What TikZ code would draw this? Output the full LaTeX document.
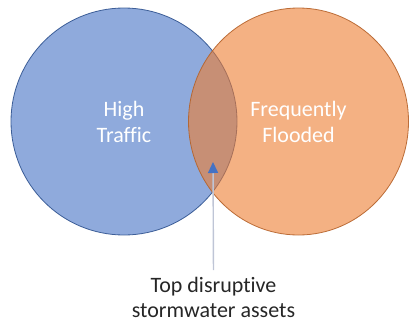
\documentclass[tikz,border=0pt]{standalone}
\usepackage{fontspec}
\setmainfont[Ligatures=NoCommon]{Carlito}
\usetikzlibrary{arrows.meta,shapes.geometric}
\definecolor{trafficblue}{HTML}{4472C4}
\definecolor{trafficline}{HTML}{2F528F}
\definecolor{floodorange}{HTML}{ED7D31}
\definecolor{floodline}{HTML}{B5622A}
\definecolor{pointerline}{HTML}{BFC5D6}

\begin{document}
\begin{tikzpicture}[x=1pt,y=-1pt]
\tikzset{set/.style={ellipse,minimum height=227pt,fill opacity=0.6,text opacity=1,
  draw opacity=0.9,line width=0.8pt,text=white,align=center,
  font=\fontsize{22}{26}\selectfont}}
\tikzset{pointer/.style={-{Triangle[width=10pt,length=11pt,color=trafficblue]},
  draw=pointerline,line width=1.4pt,shorten <=6pt}}
\useasboundingbox (0,0) rectangle (411,324);
\node[set,minimum width=226pt,fill=trafficblue,draw=trafficline] (traffic) at (124,121.5) {High\\Traffic};
\node[set,minimum width=220pt,fill=floodorange,draw=floodline] (flooded) at (298.5,121.5) {Frequently\\Flooded};
\node[align=center,text=black!85,inner sep=1pt,font=\fontsize{22}{25}\selectfont] (assets) at (213.5,297.5) {Top disruptive\\stormwater assets};
\coordinate (overlap) at (213,162);
\draw[pointer] (assets.north) -- (overlap);
\end{tikzpicture}
\end{document}
